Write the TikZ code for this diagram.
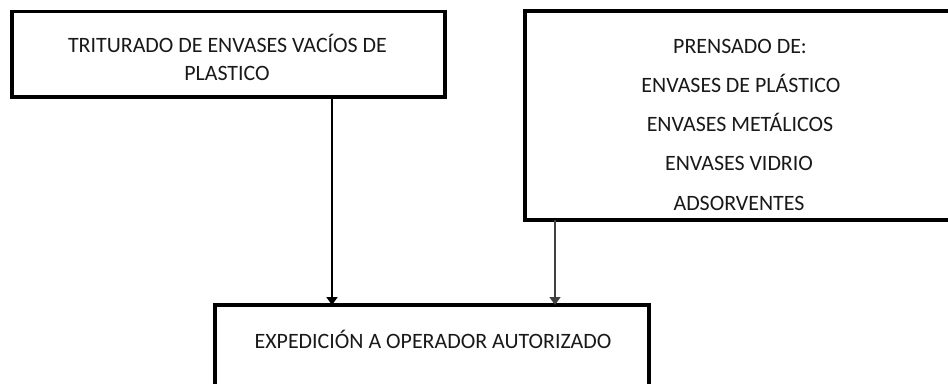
\documentclass[tikz,border=0pt]{standalone}
\usepackage{fontspec}
\setmainfont{Carlito}
\usetikzlibrary{arrows.meta}
\begin{document}
\begin{tikzpicture}[x=1bp,y=-1bp,
  box/.style={draw=black,line width=3.2bp,inner sep=0pt,outer sep=0pt},
  txt/.style={anchor=base,inner sep=0pt,outer sep=0pt,text=black!90,font=\fontsize{22}{26}\selectfont},
  arr/.style={line width=2.2bp,-{Triangle[length=8bp,width=11bp]}},
  arrthin/.style={line width=1.5bp,draw=black!75,-{Triangle[length=8bp,width=11bp]}}]
\useasboundingbox (0,0) rectangle (948,383);
\fill[white] (0,0) rectangle (948,383);
\clip (0,0) rectangle (948,383);
% boxes
\node[box,minimum width=433bp,minimum height=85.5bp] (b1) at (228.5,54.25) {};
\node[box,minimum width=440bp,minimum height=209bp] (b2) at (745,115.5) {};
\node[box,minimum width=434bp,minimum height=120bp] (b3) at (432,365) {};
% texts
\node[txt] (t1a) at (227.5,52) {TRITURADO DE ENVASES VACÍOS DE};
\node[txt] (t1b) at (227,80) {PLASTICO};
\node[txt] (t2a) at (740,53.5) {PRENSADO DE:};
\node[txt] (t2b) at (741,92.5) {ENVASES DE PLÁSTICO};
\node[txt] (t2c) at (740,131.5) {ENVASES METÁLICOS};
\node[txt] (t2d) at (739,170) {ENVASES VIDRIO};
\node[txt] (t2e) at (739,210) {ADSORVENTES};
\node[txt] (t3) at (433,348) {EXPEDICIÓN A OPERADOR AUTORIZADO};
% connectors
\coordinate (c1) at (332,0);
\coordinate (c2) at (555,0);
\draw[arr] (b1.south -| c1) -- (b3.north -| c1);
\draw[arrthin] (b2.south -| c2) -- (b3.north -| c2);
\end{tikzpicture}
\end{document}
